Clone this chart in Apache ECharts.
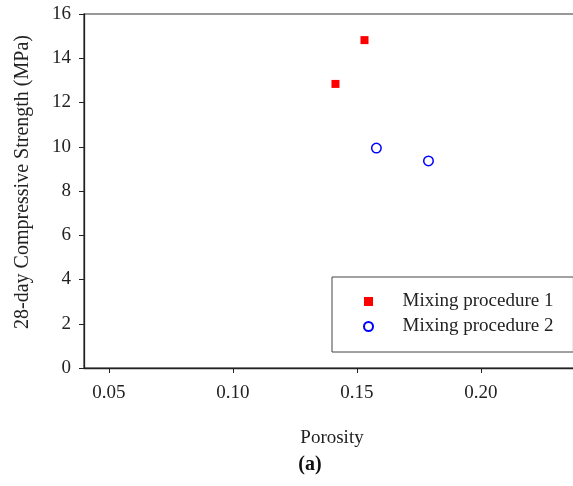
<!DOCTYPE html>
<html style="height: 100%">
   <head>
       <meta charset="utf-8">
   </head>
   <body style="height: 100%; margin: 0">
       <div id="container" style="width: 573px; height: 486px"></div>
       <script type="text/javascript" src="https://cdn.jsdelivr.net/npm/echarts@6/dist/echarts.min.js"></script>

       <script type="text/javascript">
var dom = document.getElementById("container");
var myChart = echarts.init(dom);
var option = null;

// porosity / 28-day strength
var porosity1 = [0.1414, 0.1531];
var strength1 = [12.84, 14.82];
var porosity2 = [0.1579, 0.1789];
var strength2 = [9.94, 9.36];
var xTicks = [0.05, 0.10, 0.15, 0.20];
var seriesNames = ['Mixing procedure 1', 'Mixing procedure 2'];

var fontName = 'Liberation Serif';
var ink = '#222';

function pairs(xs, ys) {
    var out = [];
    for (var i = 0; i < xs.length; i++) {
        out.push([xs[i], ys[i]]);
    }
    return out;
}

option = {
    animation: false,
    backgroundColor: '#fff',
    textStyle: { fontFamily: fontName },
    grid: {
        left: 84,
        top: 14,
        width: 496,
        height: 354,
        show: true,
        borderColor: '#333',
        borderWidth: 1.2,
        outerBoundsMode: 'none'
    },
    xAxis: {
        type: 'value',
        min: 0.04,
        max: 0.24,
        name: 'Porosity',
        nameLocation: 'middle',
        nameGap: 61,
        nameTextStyle: { fontSize: 19, color: ink, fontFamily: fontName },
        splitLine: { show: false },
        axisLine: { lineStyle: { color: '#222', width: 1.3 } },
        axisTick: {
            customValues: xTicks,
            length: 5,
            lineStyle: { color: '#222' }
        },
        axisLabel: {
            customValues: xTicks,
            margin: 16,
            fontSize: 19,
            color: ink,
            fontFamily: fontName,
            formatter: function (v) { return v.toFixed(2); }
        }
    },
    yAxis: {
        type: 'value',
        min: 0,
        max: 16,
        interval: 2,
        name: '28-day Compressive Strength (MPa)',
        nameLocation: 'middle',
        nameGap: 51,
        nameTextStyle: { fontSize: 20, color: ink, fontFamily: fontName, padding: [0, 0, 0, 18] },
        splitLine: { show: false },
        axisLine: { show: true, lineStyle: { color: '#222', width: 1.3 } },
        axisTick: { show: true, length: 5, lineStyle: { color: '#222' } },
        axisLabel: {
            margin: 13,
            fontSize: 19,
            color: ink,
            fontFamily: fontName
        }
    },
    legend: {
        orient: 'vertical',
        left: 332,
        top: 277,
        padding: [15, 20, 16, 31],
        itemWidth: 58,
        itemHeight: 9,
        itemGap: 6,
        symbolKeepAspect: true,
        borderColor: '#444',
        borderWidth: 1,
        backgroundColor: '#fff',
        textStyle: { fontSize: 19, lineHeight: 19, color: ink, fontFamily: fontName },
        data: [
            { name: seriesNames[0], icon: 'path://M0,0L1,0L1,1L0,1Z' },
            { name: seriesNames[1] }
        ]
    },
    graphic: [{
        type: 'text',
        x: 310,
        y: 465,
        style: {
            text: '(a)',
            font: 'bold 20px "Liberation Serif"',
            fill: '#111',
            align: 'center',
            verticalAlign: 'middle'
        }
    }],
    series: [{
        name: seriesNames[0],
        type: 'scatter',
        symbol: 'rect',
        symbolSize: 8,
        itemStyle: { color: '#ff0000', opacity: 1 },
        data: pairs(porosity1, strength1)
    }, {
        name: seriesNames[1],
        type: 'scatter',
        symbol: 'circle',
        symbolSize: 9.5,
        itemStyle: { color: '#fff', borderColor: '#0000ff', borderWidth: 1.5, opacity: 1 },
        data: pairs(porosity2, strength2)
    }]
};

if (option && typeof option === "object") {
    myChart.setOption(option, false);
}
       </script>
   </body>
</html>
